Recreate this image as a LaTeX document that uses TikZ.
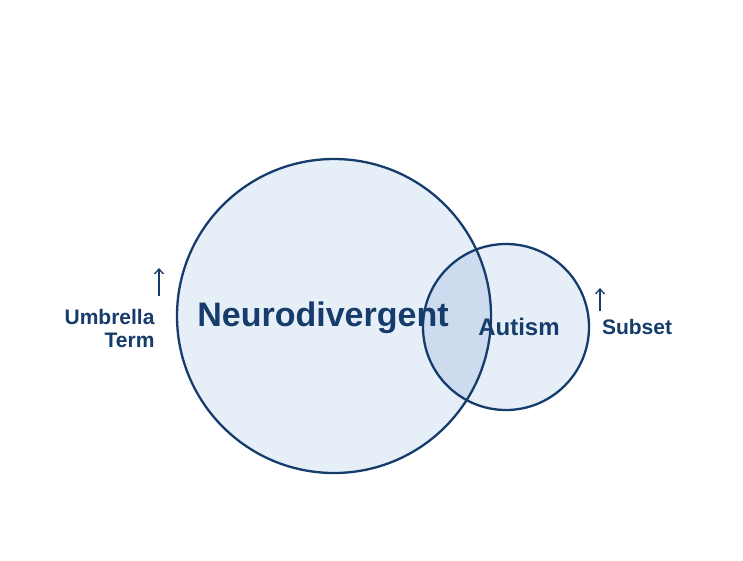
\documentclass[tikz,border=0pt]{standalone}
\usepackage{fontspec}
\setmainfont{Liberation Sans}
\begin{document}
\begin{tikzpicture}[x=1pt,y=-1pt,
  circ/.style={draw=dblue,line width=2.3pt},
  lbl/.style={text=dblue,font=\bfseries\fontsize{21}{23}\selectfont},
  arr/.style={draw=dblue,line width=1.3pt,->,>={Straight Barb[length=5pt,width=9pt]}}]
\usetikzlibrary{arrows.meta}
\definecolor{dblue}{HTML}{163C6C}
\definecolor{lfill}{HTML}{E6EEF8}
\definecolor{ifill}{HTML}{CCDBEE}
\useasboundingbox (0,0) rectangle (743,560);
\fill[white] (0,0) rectangle (743,560);
\coordinate (bc) at (334,316);
\coordinate (sc) at (506,327);
\fill[lfill] (bc) circle (157);
\fill[lfill] (sc) circle (83);
\begin{scope}
\clip (bc) circle (157);
\fill[ifill] (sc) circle (83);
\end{scope}
\draw[circ] (bc) circle (157);
\draw[circ] (sc) circle (83);
\node[text=dblue,font=\bfseries\fontsize{34}{40}\selectfont] (nd) at (323,318) {Neurodivergent};
\node[lbl,font=\bfseries\fontsize{24}{28}\selectfont] (au) at (519,327) {Autism};
\node[lbl,align=right,anchor=east] (ut) at (158,328) {Umbrella\\Term};
\node[lbl] (ss) at (637,327) {Subset};
\coordinate (a1) at (159,296);
\coordinate (a2) at (159,268);
\coordinate (b1) at (600,311);
\coordinate (b2) at (600,288);
\draw[arr] (a1) -- (a2);
\draw[arr] (b1) -- (b2);
\end{tikzpicture}
\end{document}
